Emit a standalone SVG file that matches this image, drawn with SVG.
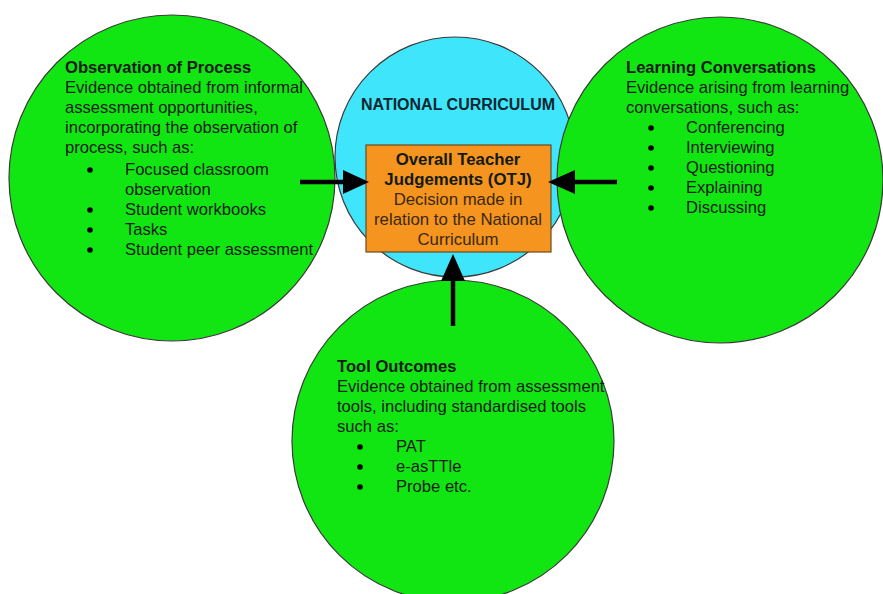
<svg xmlns="http://www.w3.org/2000/svg" width="883" height="594" viewBox="0 0 883 594">
<style>
.g{fill:#12e612;stroke:#3a3a3a;stroke-width:1.2}
.t{font-family:"Liberation Sans",Arial,sans-serif;font-size:16.6px;fill:#121a12}
.b{font-weight:bold}
.c{text-anchor:middle}
.bul{fill:#000}
.ln{stroke:#000;stroke-width:4.5;fill:none}
.hd{fill:#000}
</style>
<rect width="883" height="594" fill="#fff"/>
<g id="national-curriculum">
<circle cx="455" cy="157" r="120" fill="#3fe6fb" stroke="#3a3a3a" stroke-width="1.2"/>
<text class="t b c" x="458" y="110" style="font-size:16px;fill:#0d2630">NATIONAL CURRICULUM</text>
</g>
<g id="observation">
<circle class="g" cx="172" cy="178" r="163"/>
<text class="t" x="65" y="73"><tspan class="b">Observation of Process</tspan><tspan x="65" dy="20">Evidence obtained from informal</tspan><tspan x="65" dy="20">assessment opportunities,</tspan><tspan x="65" dy="20">incorporating the observation of</tspan><tspan x="65" dy="20">process, such as:</tspan></text>
<circle class="bul" cx="90" cy="170" r="2.8"/><text class="t" x="125" y="175">Focused classroom</text>
<text class="t" x="125" y="195">observation</text>
<circle class="bul" cx="90" cy="210" r="2.8"/><text class="t" x="125" y="215">Student workbooks</text>
<circle class="bul" cx="90" cy="230" r="2.8"/><text class="t" x="125" y="235">Tasks</text>
<circle class="bul" cx="90" cy="250" r="2.8"/><text class="t" x="125" y="255">Student peer assessment</text>
</g>
<g id="learning">
<circle class="g" cx="720" cy="180" r="163"/>
<text class="t" x="626" y="73"><tspan class="b">Learning Conversations</tspan><tspan x="626" dy="20">Evidence arising from learning</tspan><tspan x="626" dy="20">conversations, such as:</tspan></text>
<circle class="bul" cx="651" cy="128" r="2.8"/><text class="t" x="686" y="133">Conferencing</text>
<circle class="bul" cx="651" cy="148" r="2.8"/><text class="t" x="686" y="153">Interviewing</text>
<circle class="bul" cx="651" cy="168" r="2.8"/><text class="t" x="686" y="173">Questioning</text>
<circle class="bul" cx="651" cy="188" r="2.8"/><text class="t" x="686" y="193">Explaining</text>
<circle class="bul" cx="651" cy="208" r="2.8"/><text class="t" x="686" y="213">Discussing</text>
</g>
<g id="tool">
<circle class="g" cx="453" cy="441" r="161"/>
<text class="t" x="337" y="372"><tspan class="b">Tool Outcomes</tspan><tspan x="337" dy="20">Evidence obtained from assessment</tspan><tspan x="337" dy="20">tools, including standardised tools</tspan><tspan x="337" dy="20">such as:</tspan></text>
<circle class="bul" cx="360" cy="447" r="2.8"/><text class="t" x="396" y="452">PAT</text>
<circle class="bul" cx="360" cy="467" r="2.8"/><text class="t" x="396" y="472">e-asTTle</text>
<circle class="bul" cx="360" cy="487" r="2.8"/><text class="t" x="396" y="492">Probe etc.</text>
</g>
<g id="otj">
<rect x="366" y="145" width="185" height="107" fill="#f5941f" stroke="#6a4a20" stroke-width="1.2"/>
<text class="t c" x="458" y="165" style="font-size:16.8px"><tspan class="b">Overall Teacher</tspan><tspan class="b" x="458" dy="20">Judgements (OTJ)</tspan><tspan x="458" dy="20" style="fill:#3a2810">Decision made in</tspan><tspan x="458" dy="20" style="fill:#3a2810">relation to the National</tspan><tspan x="458" dy="20" style="fill:#3a2810">Curriculum</tspan></text>
</g>
<g id="connectors">
<line class="ln" x1="300" y1="182" x2="345" y2="182"/>
<polygon class="hd" points="343,170 369,182 343,194"/>
<line class="ln" x1="617" y1="182" x2="573" y2="182"/>
<polygon class="hd" points="575,170 548,182 575,194"/>
<line class="ln" x1="453" y1="326" x2="453" y2="279"/>
<polygon class="hd" points="441,281 453,254 465,281"/>
</g>
</svg>
